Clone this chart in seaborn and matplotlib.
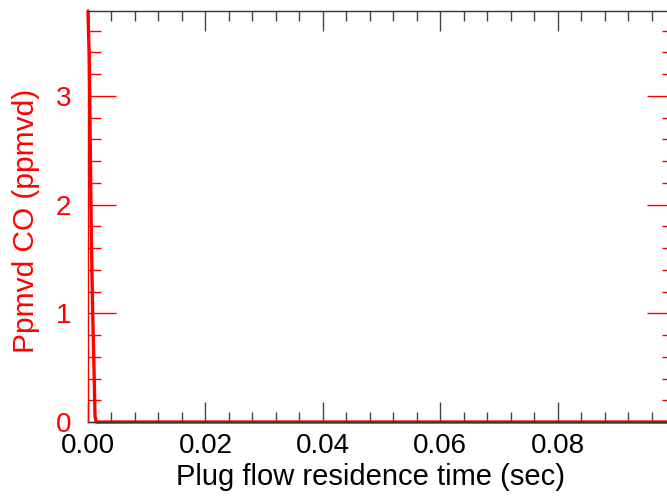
import matplotlib
matplotlib.use("Agg")
import matplotlib.pyplot as plt
import seaborn as sns
import pandas as pd
from matplotlib.ticker import MultipleLocator, FormatStrFormatter

# Data
time_sec = [0.0, 0.0001, 0.0002, 0.0003, 0.0004, 0.0005, 0.0006, 0.0008, 0.001, 0.0011, 0.0012, 0.0014, 0.002, 0.02, 0.04, 0.06, 0.08, 0.1]
co_ppmvd = [3.78, 3.55, 3.40, 3.00, 2.50, 2.00, 1.60, 1.00, 0.55, 0.30, 0.05, 0.0, 0.0, 0.0, 0.0, 0.0, 0.0, 0.0]
x_ticks = [0.00, 0.02, 0.04, 0.06, 0.08]
y_ticks = [0, 1, 2, 3]

sns.set_style("ticks")
plt.rcParams['font.family'] = ['Liberation Sans', 'DejaVu Sans']

df = pd.DataFrame({"t": time_sec, "co": co_ppmvd})

fig = plt.figure(figsize=(6.67, 4.96), dpi=100)
ax = fig.add_axes([88/667, 74/496, 587/667, 411/496])

sns.lineplot(data=df, x="t", y="co", color="red", linewidth=2.4, ax=ax, estimator=None, sort=False, clip_on=False)

ax.set_xlim(0, 0.1)
ax.set_ylim(0, 3.78)
ax.set_xticks(x_ticks)
ax.set_yticks(y_ticks)
ax.xaxis.set_major_formatter(FormatStrFormatter('%.2f'))
ax.xaxis.set_minor_locator(MultipleLocator(0.004))
ax.yaxis.set_minor_locator(MultipleLocator(0.2))

ax.tick_params(axis='x', which='major', direction='in', length=14.5, width=1.0, color='#444444',
               top=True, bottom=True, labelsize=20, labelcolor='black', pad=8)
ax.tick_params(axis='x', which='minor', direction='in', length=7.2, width=1.0, color='#444444',
               top=True, bottom=True)
ax.tick_params(axis='y', which='major', direction='in', length=20, width=1.0, color='red',
               left=True, right=True, labelsize=20, labelcolor='red', pad=12)
ax.tick_params(axis='y', which='minor', direction='in', length=9.5, width=1.0, color='red',
               left=True, right=True)

for s in ['top', 'bottom', 'right']:
    ax.spines[s].set_color('#333333')
    ax.spines[s].set_linewidth(1.0)
ax.spines['left'].set_color('red')
ax.spines['left'].set_linewidth(1.0)

ax.set_xlabel("Plug flow residence time (sec)", fontsize=21, color='black')
ax.set_ylabel("Ppmvd CO (ppmvd)", fontsize=21.5, color='red')
ax.xaxis.set_label_coords(0.482, -0.1)
ax.yaxis.set_label_coords(-0.082, 0.49)

fig.savefig("out.png", dpi=100)
